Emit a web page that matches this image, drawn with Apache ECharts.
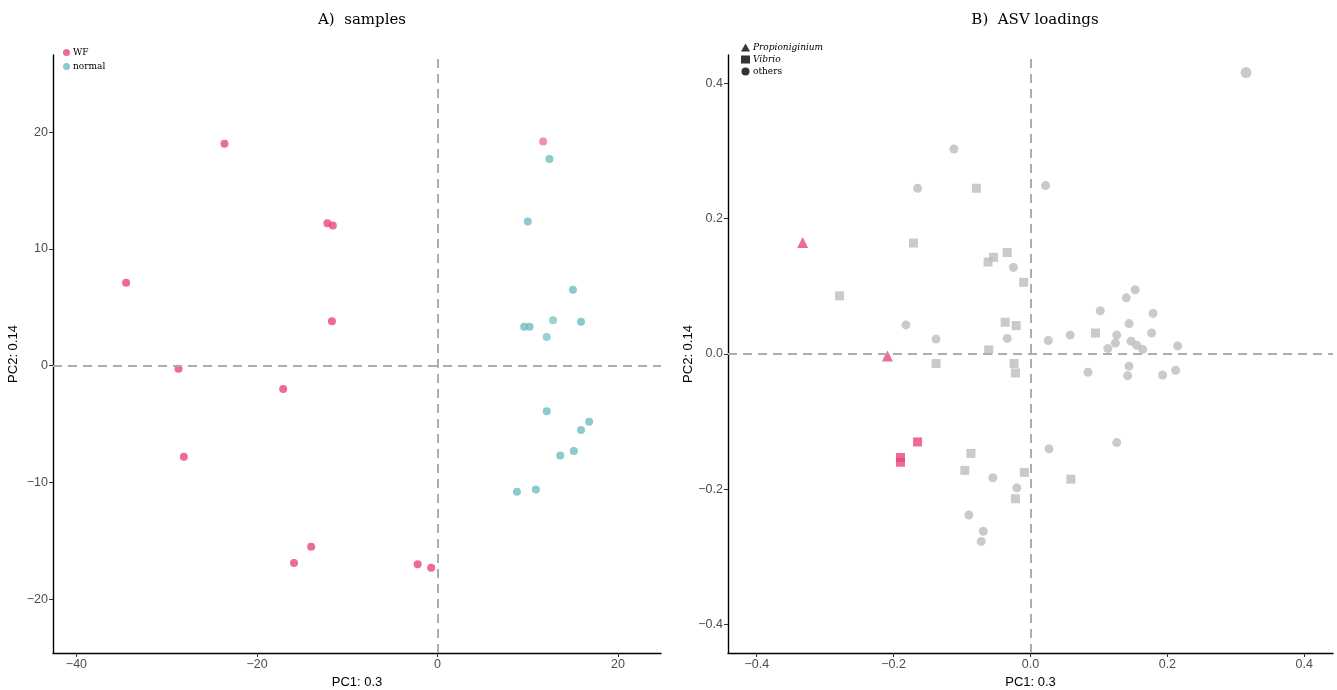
<!DOCTYPE html>
<html>
<head>
<meta charset="utf-8">
<script src="https://cdn.jsdelivr.net/npm/echarts@6/dist/echarts.min.js"></script>
<style>html,body{margin:0;padding:0;background:#fff}#c{width:1337px;height:690px}</style>
</head>
<body>
<div id="c"></div>
<script>
// ---- Panel A: samples (PC1, PC2) ----
var wfSamples = [[-23.6,19.0],[-34.5,7.1],[-12.2,12.2],[-11.6,12.0],[-11.7,3.8],[-28.7,-0.26],[-17.1,-2.0],[-28.1,-7.8],[-14.0,-15.5],[-15.9,-16.9],[-2.2,-17.0],[-0.7,-17.3]];
var wfSamplesFaded = [[11.7,19.2]];
var normalSamples = [[12.4,17.7],[10.0,12.35],[15.0,6.5],[15.9,3.77],[9.6,3.34],[10.2,3.34],[12.1,-3.9],[16.8,-4.8],[15.9,-5.5],[15.1,-7.3],[13.6,-7.7],[10.9,-10.6],[8.8,-10.8]];
var normalSamplesFaded = [[12.8,3.9],[12.1,2.45]];
var ticksAx = [-40,-20,0,20];
var ticksAy = [-20,-10,0,10,20];

// ---- Panel B: ASV loadings ----
var propioniginium = [[-0.333,0.165],[-0.209,-0.003]];
var vibrioHighlighted = [[-0.165,-0.130],[-0.190,-0.153],[-0.190,-0.160]];
var vibrioOther = [[-0.171,0.164],[-0.079,0.245],[-0.279,0.086],[-0.034,0.150],[-0.054,0.143],[-0.062,0.136],[-0.010,0.106],[-0.037,0.047],[-0.021,0.042],[-0.061,0.006],[-0.138,-0.014],[-0.024,-0.014],[-0.022,-0.028],[0.095,0.031],[-0.087,-0.147],[-0.096,-0.172],[-0.009,-0.175],[0.059,-0.185],[-0.022,-0.214]];
var others = [[-0.112,0.303],[-0.165,0.245],[0.022,0.249],[-0.025,0.128],[-0.182,0.043],[-0.138,0.022],[-0.034,0.023],[0.026,0.020],[0.058,0.028],[0.102,0.064],[0.140,0.083],[0.153,0.095],[0.179,0.060],[0.144,0.045],[0.126,0.028],[0.177,0.031],[0.124,0.016],[0.113,0.008],[0.147,0.019],[0.155,0.013],[0.164,0.007],[0.215,0.012],[0.084,-0.027],[0.144,-0.018],[0.142,-0.032],[0.193,-0.031],[0.212,-0.024],[0.126,-0.131],[0.027,-0.140],[-0.055,-0.183],[-0.020,-0.198],[-0.090,-0.238],[-0.069,-0.262],[-0.072,-0.277]];
var othersLarge = [[0.315,0.416]];
var ticksB = [-0.4,-0.2,0.0,0.2,0.4];

var PINK = '#E8467C', CYAN = '#6FBDBE', GRAY = '#BDBDBD';
var SERIF = '"DejaVu Serif","Liberation Serif",serif';
var SANS = '"Liberation Sans",Arial,sans-serif';

function minusFmt(v, d) {
  var s = (d != null) ? Math.abs(v).toFixed(d) : String(Math.abs(v));
  return (v < 0 ? '\u2212' : '') + s;
}
function axis(gridIndex, min, max, ticks, name, isY, dec) {
  return {
    type: 'value', gridIndex: gridIndex, min: min, max: max,
    name: name, nameLocation: 'middle', nameGap: isY ? 33 : 22,
    nameTextStyle: { color: '#000', fontSize: 13, fontFamily: SANS },
    axisLine: { show: true, onZero: false, lineStyle: { color: '#000', width: 1.4 } },
    axisTick: { show: true, length: 4, customValues: ticks, lineStyle: { color: '#333' } },
    axisLabel: { show: true, customValues: ticks, color: '#4d4d4d', fontSize: 12.5, fontFamily: SANS, margin: 5,
      formatter: function (v) { return minusFmt(v, dec); } },
    splitLine: { show: false }
  };
}
var dashed = {
  silent: true, symbol: 'none', label: { show: false },
  lineStyle: { color: '#ADADAD', type: [9, 6], width: 2 },
  data: [{ xAxis: 0 }, { yAxis: 0 }]
};

var option = {
  backgroundColor: '#fff',
  animation: false,
  title: [
    { text: 'A)  samples', left: 357, textAlign: 'center', top: 8, textStyle: { fontFamily: SERIF, fontSize: 15, fontWeight: 'normal', color: '#000' } },
    { text: 'B)  ASV loadings', left: 1030, textAlign: 'center', top: 8, textStyle: { fontFamily: SERIF, fontSize: 15, fontWeight: 'normal', color: '#000' } }
  ],
  legend: [
    { data: [{ name: 'WF', icon: 'circle' }, { name: 'normal', icon: 'circle' }],
      orient: 'vertical', left: 58, top: 43, itemWidth: 7, itemHeight: 7, itemGap: 5,
      textStyle: { fontFamily: SERIF, fontSize: 9, color: '#000', padding: [0, 0, 0, -2] } },
    { data: [
        { name: 'Propioniginium', icon: 'triangle', itemStyle: { color: '#000' }, textStyle: { fontStyle: 'italic' } },
        { name: 'Vibrio', icon: 'rect', itemStyle: { color: '#000' }, textStyle: { fontStyle: 'italic' } },
        { name: 'others', icon: 'circle', itemStyle: { color: '#000' } }
      ],
      orient: 'vertical', left: 736, top: 38, itemWidth: 9, itemHeight: 8, itemGap: 3,
      textStyle: { fontFamily: SERIF, fontSize: 9, color: '#000', padding: [0, 0, 0, -2] } }
  ],
  grid: [
    { left: 53, right: 676, top: 55, bottom: 37, outerBoundsMode: 'none', containLabel: false },
    { left: 728, right: 4, top: 55, bottom: 37, outerBoundsMode: 'none', containLabel: false }
  ],
  xAxis: [
    axis(0, -42.6, 24.76, ticksAx, 'PC1: 0.3', false),
    axis(1, -0.442, 0.442, ticksB, 'PC1: 0.3', false, 1)
  ],
  yAxis: [
    axis(0, -24.6, 26.6, ticksAy, 'PC2: 0.14', true),
    axis(1, -0.442, 0.442, ticksB, 'PC2: 0.14', true, 1)
  ],
  series: [
    { type: 'scatter', name: 'WF', xAxisIndex: 0, yAxisIndex: 0, data: wfSamples, symbol: 'circle', symbolSize: 8, itemStyle: { color: PINK }, markLine: dashed, z: 3 },
    { type: 'scatter', name: 'WF', xAxisIndex: 0, yAxisIndex: 0, data: wfSamplesFaded, symbol: 'circle', symbolSize: 8, itemStyle: { color: PINK, opacity: 0.6 }, z: 3 },
    { type: 'scatter', name: 'normal', xAxisIndex: 0, yAxisIndex: 0, data: normalSamples, symbol: 'circle', symbolSize: 8, itemStyle: { color: CYAN }, z: 3 },
    { type: 'scatter', name: 'normal', xAxisIndex: 0, yAxisIndex: 0, data: normalSamplesFaded, symbol: 'circle', symbolSize: 8, itemStyle: { color: CYAN, opacity: 0.7 }, z: 3 },

    { type: 'scatter', name: 'others', xAxisIndex: 1, yAxisIndex: 1, data: others, symbol: 'circle', symbolSize: 9, itemStyle: { color: GRAY }, markLine: dashed, z: 3 },
    { type: 'scatter', name: 'others', xAxisIndex: 1, yAxisIndex: 1, data: othersLarge, symbol: 'circle', symbolSize: 11, itemStyle: { color: GRAY }, z: 3 },
    { type: 'scatter', name: 'Vibrio', xAxisIndex: 1, yAxisIndex: 1, data: vibrioOther, symbol: 'rect', symbolSize: 9, itemStyle: { color: GRAY }, z: 3 },
    { type: 'scatter', name: 'Vibrio', xAxisIndex: 1, yAxisIndex: 1, data: vibrioHighlighted, symbol: 'rect', symbolSize: 9, itemStyle: { color: PINK }, z: 4 },
    { type: 'scatter', name: 'Propioniginium', xAxisIndex: 1, yAxisIndex: 1, data: propioniginium, symbol: 'triangle', symbolSize: 11, itemStyle: { color: PINK }, z: 4 }
  ]
};
echarts.init(document.getElementById('c'), null, { renderer: 'canvas' }).setOption(option);
</script>
</body>
</html>
